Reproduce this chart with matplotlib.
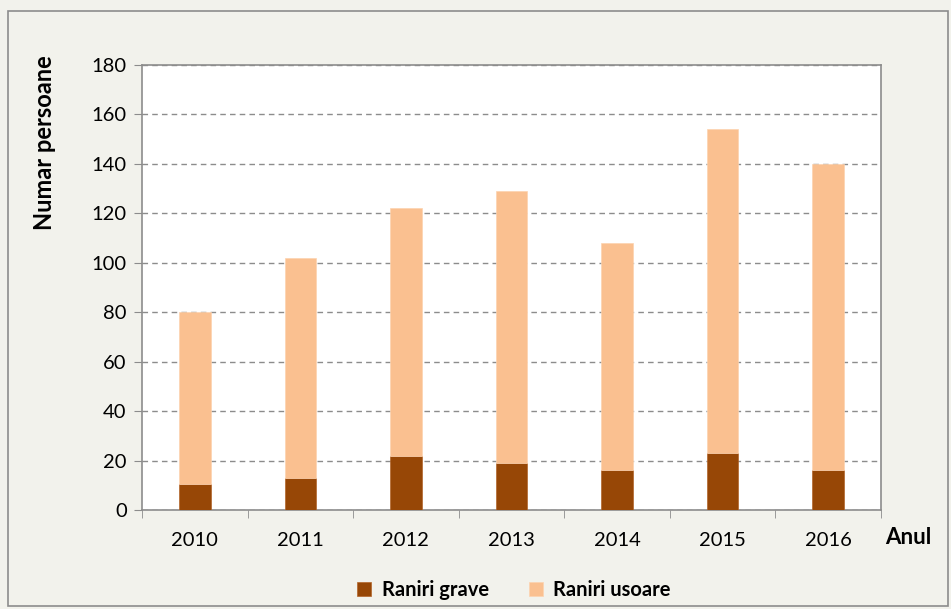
import matplotlib.pyplot as plt
import matplotlib.patches as patches
import numpy as np

years = ['2010', '2011', '2012', '2013', '2014', '2015', '2016']
grave = [10.5, 13, 22, 19, 16, 23, 16]
total = [80, 102, 122, 129, 108, 154, 140]
usoare = [t - g for t, g in zip(total, grave)]

plt.rcParams['font.family'] = ['Lato', 'DejaVu Sans']

fig = plt.figure(figsize=(9.51, 6.09), dpi=100)
fig.patch.set_facecolor('#f2f2ec')
# outer frame
fig.patches.append(patches.Rectangle((8 / 951, 3 / 609), 940 / 951, 595 / 609,
                                     transform=fig.transFigure, fill=False,
                                     edgecolor='#8c8c8c', linewidth=1.2))

ax = fig.add_axes([142 / 951, 1 - 510 / 609, 739 / 951, 445 / 609])
ax.set_facecolor('white')

x = np.arange(len(years))
w = 0.3
ax.bar(x, grave, w, color='#974706', edgecolor='#b3652a', linewidth=0.5,
       label='Raniri grave', zorder=3)
ax.bar(x, usoare, w, bottom=grave, color='#fac090', edgecolor='#fcd3b0',
       linewidth=0.5, label='Raniri usoare', zorder=3)

ax.set_xlim(-0.5, len(years) - 0.5)
ax.set_ylim(0, 180)
ax.set_yticks(range(0, 181, 20))
ax.yaxis.grid(True, linestyle=(0, (4, 3)), color='#8c8c8c', linewidth=1)
ax.set_axisbelow(True)

ax.set_xticks(x)
ax.set_xticklabels(years, fontsize=14.5)
ax.set_xticks(np.arange(-0.5, len(years)), minor=True)
ax.tick_params(axis='x', which='major', length=0, pad=16)
ax.tick_params(axis='x', which='minor', length=6, color='#8c8c8c', direction='out')
ax.tick_params(axis='y', labelsize=14.5, length=6, color='#8c8c8c', pad=5)
for s in ax.spines.values():
    s.set_color('#8c8c8c')
    s.set_linewidth(1.2)

fig.text(45 / 951, 1 - 143 / 609, 'Numar persoane', rotation=90, fontsize=17,
         fontweight='bold', ha='center', va='center')
fig.text(908 / 951, 1 - 537 / 609, 'Anul', fontsize=16, fontweight='bold',
         ha='center', va='center')

fig.legend(loc='center', bbox_to_anchor=(514 / 951, 1 - 590 / 609), ncol=2,
           frameon=False, prop={'weight': 'bold', 'size': 14.5},
           handlelength=0.7, handleheight=0.7, columnspacing=2.0, handletextpad=0.5)

fig.savefig('out.png', dpi=100, facecolor=fig.get_facecolor())
